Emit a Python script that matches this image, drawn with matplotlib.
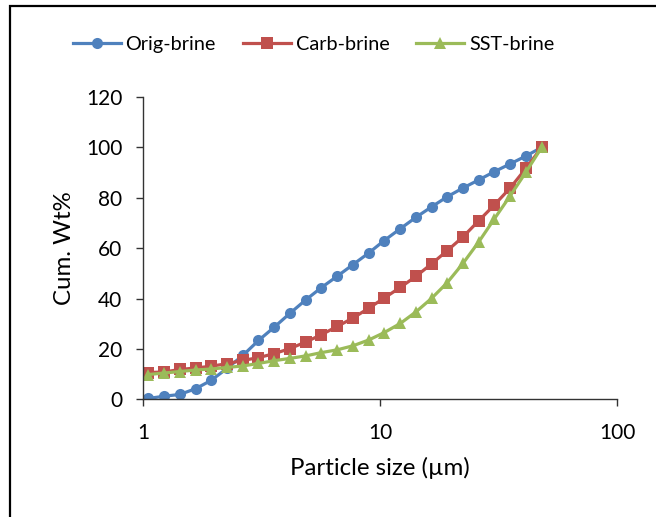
import matplotlib
matplotlib.use("Agg")
import matplotlib.pyplot as plt
from matplotlib.patches import Rectangle

plt.rcParams['font.family'] = ['Lato', 'DejaVu Sans']

# Particle size bins (µm)
particle_size = [1.05, 1.23, 1.43, 1.67, 1.94, 2.26, 2.64, 3.07, 3.58, 4.17,
                 4.86, 5.66, 6.60, 7.69, 8.96, 10.4, 12.2, 14.2, 16.5, 19.2,
                 22.4, 26.1, 30.4, 35.5, 41.3, 48.1]

# Cumulative weight percent for each brine
orig_brine = [0.4, 1.3, 2.0, 4.3, 7.6, 12.3, 17.5, 23.4, 28.7, 34.2,
              39.5, 44.4, 48.9, 53.5, 58.1, 63.0, 67.8, 72.3, 76.4, 80.4,
              83.9, 87.1, 90.4, 93.5, 96.6, 100.0]
carb_brine = [10.7, 10.9, 11.9, 12.5, 13.2, 14.2, 15.5, 16.6, 18.2, 20.2,
              22.8, 25.7, 29.0, 32.3, 36.2, 40.2, 44.5, 48.9, 53.8, 59.0,
              64.5, 70.9, 77.2, 84.0, 91.7, 100.0]
sst_brine = [9.9, 10.5, 11.1, 11.7, 12.1, 12.7, 13.3, 14.3, 15.4, 16.3,
             17.3, 18.6, 19.7, 21.3, 23.6, 26.5, 30.2, 34.8, 40.1, 46.3,
             54.0, 62.5, 71.7, 80.9, 90.2, 100.0]

series_labels = ['Orig-brine', 'Carb-brine', 'SST-brine']
series_colors = ['#4F81BD', '#C0504D', '#9BBB59']
series_markers = ['o', 's', '^']

y_ticks = [0, 20, 40, 60, 80, 100, 120]
x_ticks = [1, 10, 100]
x_tick_labels = ['1', '10', '100']

fig = plt.figure(figsize=(6.56, 5.17), dpi=100)
ax = fig.add_axes([0.218, 0.2273, 0.7225, 0.5851])

for vals, lab, col, mk in zip([orig_brine, carb_brine, sst_brine],
                              series_labels, series_colors, series_markers):
    ax.plot(particle_size, vals, color=col, marker=mk, markersize=8,
            linewidth=2.3, label=lab, markeredgewidth=0)

ax.set_xscale('log')
ax.set_xlim(1, 100)
ax.set_ylim(0, 120)
ax.set_xticks(x_ticks)
ax.set_xticklabels(x_tick_labels)
ax.minorticks_off()
ax.set_yticks(y_ticks)

for side in ['top', 'right']:
    ax.spines[side].set_visible(False)
for side in ['left', 'bottom']:
    ax.spines[side].set_color('#333333')
    ax.spines[side].set_linewidth(1.0)
ax.tick_params(axis='both', direction='out', length=5, width=1.0,
               color='#333333', labelsize=15, labelcolor='black')
ax.tick_params(axis='x', pad=12)
ax.tick_params(axis='y', pad=10)

ax.set_xlabel('Particle size (µm)', fontsize=17.3, labelpad=10)
ax.set_ylabel('Cum. Wt%', fontsize=17.3, labelpad=8)

fig.legend(loc='center', bbox_to_anchor=(0.478, 0.914), ncol=3,
           frameon=False, fontsize=14.3, handlelength=2.4,
           handletextpad=0.25, columnspacing=1.36)

# Outer chart border
fig.patches.append(Rectangle((9.5 / 656, -0.1), 1.2, 1.1 - 5.5 / 517,
                             transform=fig.transFigure, fill=False,
                             edgecolor='black', linewidth=1.6))

fig.savefig('out.png', dpi=100)
